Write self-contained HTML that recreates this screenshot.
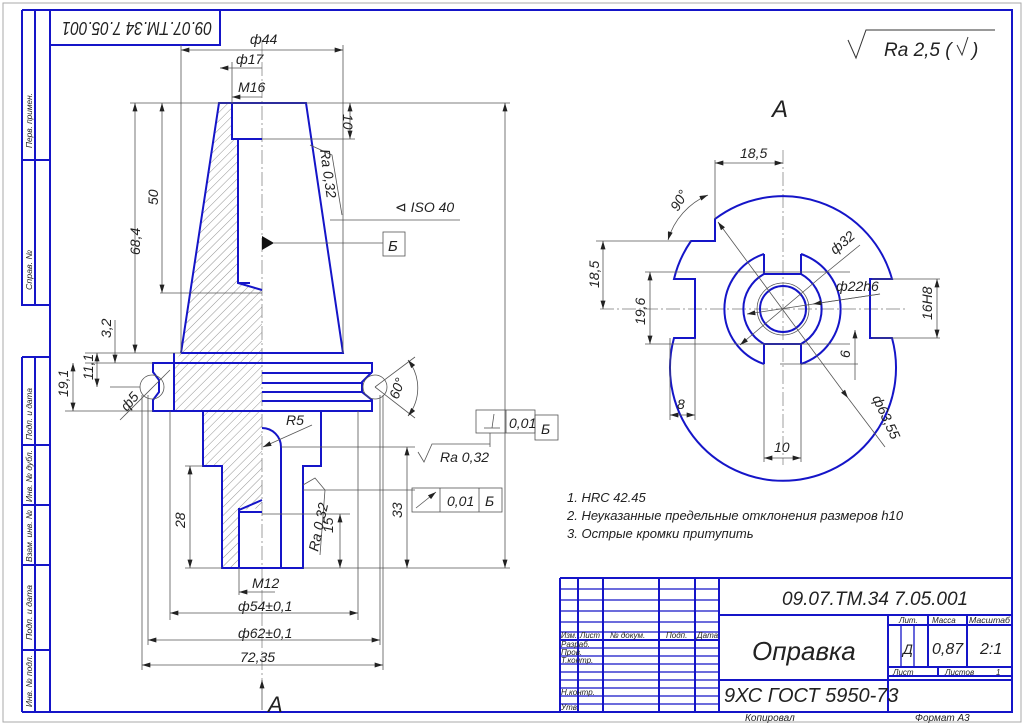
<!DOCTYPE html>
<html><head><meta charset="utf-8"><style>
html,body{margin:0;padding:0;background:#fff}
svg{display:block}
text{font-family:"Liberation Sans","DejaVu Sans",sans-serif;font-style:italic;fill:#222}
.b{stroke:#1515c8;stroke-width:2;fill:none}
.bt{stroke:#1515c8;stroke-width:1.3;fill:none}
.d{stroke:#555;stroke-width:.8;fill:none}
.c{stroke:#777;stroke-width:.7;fill:none;stroke-dasharray:14 3 2 3}
</style></head><body>
<svg width="1024" height="725" viewBox="0 0 1024 725" xmlns="http://www.w3.org/2000/svg">
<defs>
<marker id="a" viewBox="0 0 10 6" refX="10" refY="3" markerWidth="9" markerHeight="5" orient="auto-start-reverse" markerUnits="userSpaceOnUse"><path d="M0,0 L10,3 L0,6z" fill="#222"/></marker>
<pattern id="h" width="6" height="6" patternUnits="userSpaceOnUse" patternTransform="rotate(45)"><line x1="0" y1="0" x2="0" y2="6" stroke="#666" stroke-width=".7"/></pattern>
</defs>
<rect x="3" y="3" width="1018" height="719" fill="none" stroke="#aaa" stroke-width="1"/>
<rect x="50" y="10" width="962" height="702" class="b"/>
<path class="b" d="M22,10 H50 M22,10 V305 H50 M35,10 V305 M22,160 H50 M22,357 H50 M22,357 V712 M35,357 V712 M22,445 H50 M22,505 H50 M22,565 H50 M22,650 H50 M22,712 H50"/>
<g font-size="8.5">
<text transform="translate(32,148) rotate(-90)" textLength="55" lengthAdjust="spacingAndGlyphs">Перв. примен.</text>
<text transform="translate(32,290) rotate(-90)" textLength="40" lengthAdjust="spacingAndGlyphs">Справ. №</text>
<text transform="translate(32,440) rotate(-90)" textLength="52" lengthAdjust="spacingAndGlyphs">Подп. и дата</text>
<text transform="translate(32,502) rotate(-90)" textLength="52" lengthAdjust="spacingAndGlyphs">Инв. № дубл.</text>
<text transform="translate(32,562) rotate(-90)" textLength="52" lengthAdjust="spacingAndGlyphs">Взам. инв. №</text>
<text transform="translate(32,640) rotate(-90)" textLength="55" lengthAdjust="spacingAndGlyphs">Подп. и дата</text>
<text transform="translate(32,707) rotate(-90)" textLength="52" lengthAdjust="spacingAndGlyphs">Инв. № подл.</text>
</g>
<rect x="50" y="10" width="170" height="35" class="b"/>
<text font-size="18" transform="translate(212,22) rotate(180)" textLength="150" lengthAdjust="spacingAndGlyphs">09.07.ТМ.34 7.05.001</text>
<path d="M848,40 L856,58 L866,30 H995" stroke="#333" stroke-width="1" fill="none"/>
<text x="884" y="56" font-size="19">Ra 2,5 (</text>
<path d="M957,45 L962,55 L968,37" stroke="#333" stroke-width="1" fill="none"/>
<text x="972" y="56" font-size="19">)</text>

<path d="M219,103 L232,103 L232,139 L238,139 L238,283 L262,290 L262,508 L239,510 L239,568 L222,568 L222,466 L203,466 L203,411 L174,411 L174,363 L181,353 Z" fill="url(#h)"/>
<line x1="262" y1="40" x2="262" y2="690" class="c"/>
<path class="b" d="M181,353 L219,103 H306 L343,353 H181 M232,103 V139 H262 M238,139 V283 L262,290 M238,283 L250,283 M174,353 V363 M153,363 H372 V372 L362,382 V392 L372,400 V411 H153 V400 L159,392 V380 L153,372 Z M174,363 V411 M262,373 H372 M262,383 H362 M262,392 H362 M262,401 H372 M203,411 V466 H222 V568 H303 V466 H321 V411 M239,508 V568 M239,510 L262,500 M239,512 H262 M281,568 V447 A19,19 0 0 0 262,428"/>
<circle cx="152" cy="387" r="12" class="d"/>
<circle cx="375" cy="387" r="12" class="d"/>
<path d="M262,236 L274,243 L262,250z" fill="#111"/>
<line x1="274" y1="243" x2="383" y2="243" class="d"/>
<rect x="383" y="232" width="22" height="24" class="d"/>
<text x="388" y="251" font-size="15">Б</text>
<g class="d">
<line x1="181" y1="45" x2="181" y2="353"/><line x1="343" y1="45" x2="343" y2="353"/>
<line x1="181" y1="50" x2="343" y2="50" marker-start="url(#a)" marker-end="url(#a)"/>
<line x1="232" y1="62" x2="232" y2="103"/>
<line x1="220" y1="68" x2="262" y2="68" marker-start="url(#a)"/>
<line x1="232" y1="97" x2="262" y2="97" marker-start="url(#a)"/>
<line x1="130" y1="103" x2="510" y2="103"/><line x1="262" y1="139" x2="355" y2="139"/>
<line x1="350" y1="103" x2="350" y2="139" marker-start="url(#a)" marker-end="url(#a)"/>
<line x1="135" y1="103" x2="135" y2="353" marker-start="url(#a)" marker-end="url(#a)"/>
<line x1="162" y1="103" x2="162" y2="293" marker-start="url(#a)" marker-end="url(#a)"/>
<line x1="160" y1="293" x2="262" y2="293"/>
<line x1="85" y1="353" x2="181" y2="353"/><line x1="85" y1="363" x2="153" y2="363"/>
<line x1="110" y1="387" x2="140" y2="387"/><line x1="65" y1="411" x2="153" y2="411"/>
<line x1="115" y1="320" x2="115" y2="363" marker-end="url(#a)"/>
<line x1="97" y1="353" x2="97" y2="387" marker-start="url(#a)" marker-end="url(#a)"/>
<line x1="73" y1="363" x2="73" y2="411" marker-start="url(#a)" marker-end="url(#a)"/>
<line x1="120" y1="420" x2="170" y2="370"/>
<line x1="505" y1="103" x2="505" y2="568" marker-start="url(#a)" marker-end="url(#a)"/>
<line x1="303" y1="568" x2="510" y2="568"/>
<path d="M310,145 L332,155 L342,215"/><line x1="330" y1="220" x2="460" y2="220"/>
<line x1="375" y1="387" x2="415" y2="357"/><line x1="375" y1="387" x2="415" y2="418"/>
<path d="M408,360 A45,45 0 0 1 408,416" marker-start="url(#a)" marker-end="url(#a)"/>
<line x1="263" y1="447" x2="312" y2="425" marker-start="url(#a)"/>
<line x1="185" y1="466" x2="203" y2="466"/>
<line x1="190" y1="466" x2="190" y2="568" marker-start="url(#a)" marker-end="url(#a)"/>
<line x1="185" y1="568" x2="222" y2="568"/>
<line x1="281" y1="447" x2="415" y2="447"/>
<line x1="407" y1="447" x2="407" y2="568" marker-start="url(#a)" marker-end="url(#a)"/>
<line x1="262" y1="514" x2="350" y2="514"/>
<line x1="340" y1="514" x2="340" y2="568" marker-start="url(#a)" marker-end="url(#a)"/>
<path d="M303,485 L315,478 L325,490 L320,555"/>
<line x1="303" y1="490" x2="415" y2="490" />
<line x1="239" y1="568" x2="239" y2="595"/>
<line x1="239" y1="592" x2="275" y2="592" marker-start="url(#a)"/>
<line x1="170" y1="411" x2="170" y2="620"/><line x1="358" y1="411" x2="358" y2="620"/>
<line x1="170" y1="613" x2="358" y2="613" marker-start="url(#a)" marker-end="url(#a)"/>
<line x1="148" y1="395" x2="148" y2="645"/><line x1="380" y1="395" x2="380" y2="645"/>
<line x1="148" y1="640" x2="380" y2="640" marker-start="url(#a)" marker-end="url(#a)"/>
<line x1="142" y1="395" x2="142" y2="670"/><line x1="383" y1="395" x2="383" y2="670"/>
<line x1="142" y1="665" x2="383" y2="665" marker-start="url(#a)" marker-end="url(#a)"/>
<line x1="262" y1="710" x2="262" y2="680" marker-end="url(#a)"/>
<path d="M418,452 L424,462 L432,444 H490"/>
<line x1="490" y1="433" x2="490" y2="447"/>
</g>
<g font-size="14">
<text x="250" y="44">ф44</text><text x="236" y="64">ф17</text><text x="238" y="92">M16</text>
<text transform="translate(343,114) rotate(90)">10</text>
<text transform="translate(140,255) rotate(-90)">68,4</text>
<text transform="translate(158,205) rotate(-90)">50</text>
<text transform="translate(320,150) rotate(82)">Ra 0,32</text>
<text x="395" y="212">⊲ ISO 40</text>
<text transform="translate(111,338) rotate(-90)">3,2</text>
<text transform="translate(93,380) rotate(-90)">11,1</text>
<text transform="translate(68,397) rotate(-90)">19,1</text>
<text transform="translate(127,412) rotate(-50)">ф5</text>
<text transform="translate(398,400) rotate(-70)">60°</text>
<text x="286" y="425">R5</text>
<text transform="translate(185,528) rotate(-90)">28</text>
<text transform="translate(402,518) rotate(-90)">33</text>
<text transform="translate(318,552) rotate(-78)">Ra 0,32</text>
<text transform="translate(333,533) rotate(-90)">15</text>
<text x="252" y="588">M12</text>
<text x="238" y="611">ф54±0,1</text><text x="238" y="638">ф62±0,1</text><text x="240" y="662">72,35</text>
<text x="268" y="712" font-size="22">А</text>
<text x="440" y="462">Ra 0,32</text>
</g>
<g class="d">
<rect x="476" y="410" width="59" height="23"/><line x1="506" y1="410" x2="506" y2="433"/>
<rect x="535" y="415" width="23" height="25"/>
<rect x="412" y="488" width="90" height="24"/><line x1="440" y1="488" x2="440" y2="512"/><line x1="479" y1="488" x2="479" y2="512"/>
<line x1="416" y1="508" x2="436" y2="492" marker-end="url(#a)"/>
<line x1="484" y1="428" x2="500" y2="428"/><line x1="492" y1="428" x2="494" y2="414"/>
</g>
<g font-size="14"><text x="509" y="428">0,01</text><text x="541" y="434">Б</text>
<text x="447" y="506">0,01</text><text x="485" y="506">Б</text></g>
<g font-size="13">
<text x="567" y="502">1. HRC 42.45</text>
<text x="567" y="520">2. Неуказанные предельные отклонения размеров h10</text>
<text x="567" y="538">3. Острые кромки притупить</text>
</g>
<text x="772" y="117" font-size="24">А</text>
<g class="c"><line x1="783" y1="150" x2="783" y2="465"/><line x1="600" y1="309" x2="905" y2="309"/></g>
<path class="b" d="M715,219 L715,241 L691,241 A113,113 0 0 0 674,279 L695,279 L695,338 L674,338 A113,113 0 1 0 892,338 L870,338 L870,279 L892,279 A113,113 0 0 0 715,219 Z"/>
<path class="b" d="M801,254 A58,58 0 0 1 801,364 M764,364 A58,58 0 0 1 764,254 M764,254 V274 H801 V254 M764,364 V344 H801 V364 M764,274 A40,40 0 0 0 764,344 M801,274 A40,40 0 0 1 801,344"/>
<circle cx="783" cy="309" r="23" class="b"/>
<circle cx="783" cy="309" r="26" class="d"/>
<g class="d">
<line x1="715" y1="160" x2="715" y2="219"/>
<line x1="715" y1="163" x2="783" y2="163" marker-start="url(#a)" marker-end="url(#a)"/>
<path d="M708,195 A70,70 0 0 0 668,240" marker-start="url(#a)" marker-end="url(#a)"/>
<line x1="596" y1="241" x2="691" y2="241"/>
<line x1="603" y1="241" x2="603" y2="309" marker-start="url(#a)" marker-end="url(#a)"/>
<line x1="645" y1="272" x2="850" y2="272"/><line x1="645" y1="344" x2="850" y2="344"/>
<line x1="650" y1="272" x2="650" y2="344" marker-start="url(#a)" marker-end="url(#a)"/>
<line x1="872" y1="279" x2="940" y2="279"/><line x1="872" y1="338" x2="940" y2="338"/>
<line x1="937" y1="279" x2="937" y2="338" marker-start="url(#a)" marker-end="url(#a)"/>
<line x1="855" y1="330" x2="855" y2="380" marker-start="url(#a)"/>
<line x1="780" y1="364" x2="858" y2="364"/>
<line x1="670" y1="338" x2="670" y2="420"/><line x1="695" y1="338" x2="695" y2="420"/>
<line x1="670" y1="415" x2="695" y2="415" marker-start="url(#a)" marker-end="url(#a)"/>
<line x1="764" y1="364" x2="764" y2="462"/><line x1="801" y1="364" x2="801" y2="462"/>
<line x1="764" y1="458" x2="801" y2="458" marker-start="url(#a)" marker-end="url(#a)"/>
<line x1="718" y1="222" x2="848" y2="398" marker-start="url(#a)" marker-end="url(#a)"/><line x1="848" y1="398" x2="885" y2="447"/>
<line x1="740" y1="345" x2="822" y2="276" marker-start="url(#a)"/><line x1="822" y1="276" x2="860" y2="245"/>
<line x1="747" y1="314" x2="880" y2="294" marker-start="url(#a)"/><line x1="813" y1="304" x2="880" y2="294" marker-start="url(#a)"/>
</g>
<g font-size="14">
<text x="740" y="158">18,5</text>
<text transform="translate(678,212) rotate(-60)">90°</text>
<text transform="translate(599,288) rotate(-90)">18,5</text>
<text transform="translate(645,325) rotate(-90)">19,6</text>
<text transform="translate(835,255) rotate(-40)">ф32</text>
<text x="836" y="291">ф22h6</text>
<text transform="translate(932,320) rotate(-90)">16H8</text>
<text transform="translate(850,358) rotate(-90)">6</text>
<text x="677" y="409">8</text>
<text transform="translate(872,398) rotate(65)">ф63,55</text>
<text x="774" y="452">10</text>
</g>
<path class="b" d="M560,578 H1012 M560,578 V712 M578,578 V712 M603,578 V712 M659,578 V712 M695,578 V712 M719,578 V712 M719,615 H1012 M888,615 V712 M719,680 H1012 M888,625 H1012 M928,615 V667 M967,615 V667 M888,667 H1012 M888,676 H1012 M938,667 V676 M560,640 H719"/>
<path class="bt" d="M901,625 V667 M914,625 V667 M560,589 H719 M560,600 H719 M560,611 H719 M560,622 H719 M560,632 H719 M560,648 H719 M560,656 H719 M560,664 H719 M560,672 H719 M560,680 H719 M560,688 H719 M560,696 H719 M560,704 H719"/>
<g font-size="8">
<text x="561" y="638" textLength="16" lengthAdjust="spacingAndGlyphs">Изм.</text><text x="580" y="638" textLength="20" lengthAdjust="spacingAndGlyphs">Лист</text><text x="610" y="638">№ докум.</text><text x="666" y="638">Подп.</text><text x="697" y="638">Дата</text>
<text x="561" y="647">Разраб.</text><text x="561" y="655">Пров.</text><text x="561" y="663">Т.контр.</text>
<text x="561" y="695">Н.контр.</text><text x="561" y="710">Утв.</text>
<text x="899" y="623">Лит.</text><text x="932" y="623">Масса</text><text x="969" y="623" textLength="41" lengthAdjust="spacingAndGlyphs">Масштаб</text>
<text x="893" y="675">Лист</text><text x="945" y="675">Листов</text><text x="996" y="675">1</text>
</g>
<text x="782" y="605" font-size="19">09.07.ТМ.34 7.05.001</text>
<text x="752" y="660" font-size="26">Оправка</text>
<text x="724" y="702" font-size="20">9ХС ГОСТ 5950-73</text>
<text x="903" y="654" font-size="14">Д</text>
<text x="932" y="654" font-size="16">0,87</text>
<text x="980" y="654" font-size="16">2:1</text>
<text x="745" y="721" font-size="10">Копировал</text>
<text x="915" y="721" font-size="10">Формат    А3</text>
</svg>
</body></html>
